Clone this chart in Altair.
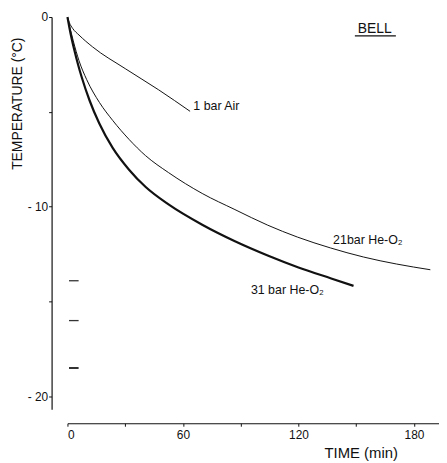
import altair as alt
import pandas as pd

# ---- data ----
air_time = [0, 1, 2.7, 6, 13, 30, 47.4, 63.7]
air_temp = [0, -0.3, -0.6, -0.95, -1.57, -2.72, -3.84, -4.97]

he21_time = [0, 1, 2, 3, 6, 10, 16.6, 23.5, 32, 40.5, 52.5, 70, 87, 104, 119.5, 136.6, 153.8, 171, 188.5]
he21_temp = [0, -0.45, -0.85, -1.25, -2.3, -3.3, -4.5, -5.45, -6.45, -7.3, -8.2, -9.3, -10.15, -10.97, -11.6, -12.17, -12.65, -13.02, -13.32]

he31_time = [0, 1, 2, 3.6, 5.5, 7.5, 11.5, 16.5, 23.5, 32, 40.5, 52.5, 70, 87, 104, 120, 137, 148.6]
he31_temp = [0, -0.55, -1.05, -1.75, -2.5, -3.2, -4.4, -5.6, -6.9, -8.05, -8.95, -9.88, -10.95, -11.82, -12.57, -13.2, -13.78, -14.17]

series_names = ["1 bar Air", "21bar He-O₂", "31 bar He-O₂"]
series_widths = [1.0, 1.0, 2.2]

# small marks near the y axis
dash_temps = [-13.9, -16.0, -18.5]
dash_t0 = [0.8, 0.8, 0.8]
dash_t1 = [5.8, 5.8, 5.8]
dash_widths = [1.3, 1.3, 2.0]

# annotation placement (data coordinates)
label_time = [65.4, 138, 95.3]
label_temp = [-4.71, -11.78, -14.4]
panel_label = "BELL"
panel_time = [150.8]
panel_temp = [-0.63]
underline_t = [149.3, 170.6]
underline_T = [-0.99]

x_ticks = [0, 30, 60, 90, 120, 150, 180]
y_ticks = [0, -5, -10, -15, -20]

# ---- tables ----
rows = []
for name, w, ts, Ts in zip(series_names, series_widths,
                           [air_time, he21_time, he31_time],
                           [air_temp, he21_temp, he31_temp]):
    for t, T in zip(ts, Ts):
        rows.append({"series": name, "w": w, "t": t, "T": T})
curves = pd.DataFrame(rows)

dashes = pd.DataFrame({"T": dash_temps, "t": dash_t0, "t1": dash_t1, "w": dash_widths})
labels = pd.DataFrame({"t": label_time, "T": label_temp, "text": series_names})
panel = pd.DataFrame({"t": panel_time, "T": panel_temp, "text": [panel_label]})
uline = pd.DataFrame({"t": [underline_t[0]], "t1": [underline_t[1]], "T": underline_T})

FONT = "Liberation Sans"
INK = "#111111"

xscale = alt.Scale(domain=[0, 193], nice=False, zero=False)
yscale = alt.Scale(domain=[-20.68, 0], nice=False, zero=False)

xaxis = alt.Axis(
    values=x_ticks,
    labelExpr="datum.value % 60 == 0 ? datum.label : ''",
    title="TIME (min)", titleFont=FONT, titleFontSize=15, titleFontWeight="normal",
    titleColor=INK, titleAnchor="start", titleAlign="center", titleBaseline="middle",
    titleX=296, titleY=30,
    labelFont=FONT, labelFontSize=12, labelColor=INK, labelPadding=3,
    tickSize=3, tickColor=INK, domainColor=INK, domainWidth=1.2,
    grid=False, offset=14,
)
yaxis = alt.Axis(
    values=y_ticks,
    labelExpr="datum.value == 0 ? '0' : (datum.value % 10 == 0 ? '- ' + abs(datum.value) : '')",
    title="TEMPERATURE (°C)", titleFont=FONT, titleFontSize=14, titleFontWeight="normal",
    titleColor=INK, titleAngle=270, titleAnchor="start", titleAlign="center", titleBaseline="middle",
    titleX=-34, titleY=87,
    labelFont=FONT, labelFontSize=12, labelColor=INK, labelPadding=1,
    tickSize=3, tickColor=INK, domainColor=INK, domainWidth=1.2,
    grid=False, offset=16,
)

X = alt.X("t:Q", scale=xscale, axis=xaxis)
Y = alt.Y("T:Q", scale=yscale, axis=yaxis)

lines = alt.Chart(curves).mark_line(interpolate="monotone", color=INK).encode(
    x=X, y=Y,
    detail="series:N",
    strokeWidth=alt.StrokeWidth("w:Q", scale=None, legend=None),
)

dash_marks = alt.Chart(dashes).mark_rule(color="#333333").encode(
    x=X, x2="t1:Q", y=Y,
    strokeWidth=alt.StrokeWidth("w:Q", scale=None, legend=None),
)

text_marks = alt.Chart(labels).mark_text(
    align="left", baseline="middle", font=FONT, fontSize=12.5, color=INK
).encode(x=X, y=Y, text="text:N")

panel_text = alt.Chart(panel).mark_text(
    align="left", baseline="middle", font=FONT, fontSize=14, color=INK
).encode(x=X, y=Y, text="text:N")

panel_rule = alt.Chart(uline).mark_rule(color=INK, strokeWidth=1.2).encode(
    x=X, x2="t1:Q", y=Y
)

chart = alt.layer(lines, dash_marks, text_marks, panel_text, panel_rule).properties(
    width=375, height=396,
    background="white",
    autosize=alt.AutoSizeParams(type="none"),
    padding={"left": 60, "top": 7, "right": 0, "bottom": 50},
).configure_view(stroke=None)

chart.save("out.html", embed_options={"renderer": "svg", "actions": False})
